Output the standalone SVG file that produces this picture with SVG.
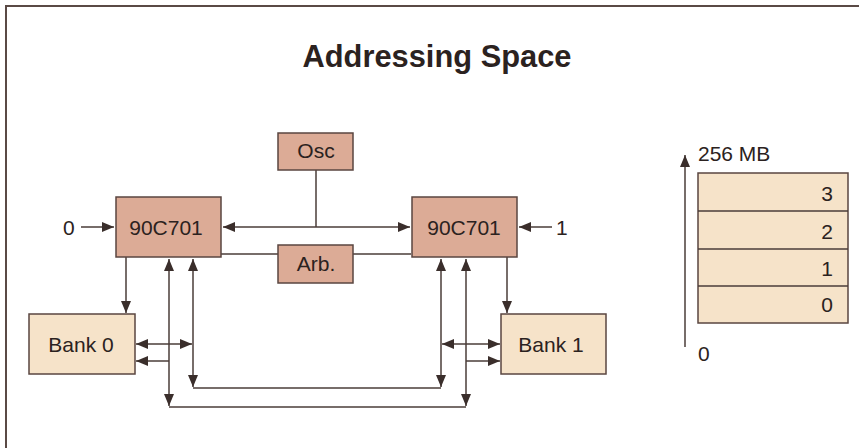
<svg xmlns="http://www.w3.org/2000/svg" width="859" height="448" viewBox="0 0 859 448">
<style>
text{font-family:"Liberation Sans",Arial,sans-serif;fill:#2b2220;font-size:21px}
.title{font-size:31px;font-weight:bold}
.chip{fill:#dcab96;stroke:#5a4640;stroke-width:1.5}
.bank{fill:#f6e3c9;stroke:#5a4640;stroke-width:1.5}
.ln{stroke:#4a3c38;stroke-width:1.5;fill:none}
.mid{text-anchor:middle}
.end{text-anchor:end}
</style>
<defs>
<marker id="ah" markerUnits="userSpaceOnUse" markerWidth="13" markerHeight="11" refX="12" refY="5" orient="auto-start-reverse">
<path d="M0,0 L12,5 L0,10 Z" fill="#3a2e2b"/>
</marker>
</defs>
<rect width="859" height="448" fill="#ffffff"/>
<g id="frame" class="ln"><path d="M6,448 V6 H859" stroke="#5a4a45" stroke-width="2"/></g>
<text class="title mid" x="437" y="67" textLength="269" lengthAdjust="spacingAndGlyphs">Addressing Space</text>

<g id="connectors" class="ln">
<line x1="81" y1="227" x2="114" y2="227" marker-end="url(#ah)"/>
<line x1="223" y1="227" x2="410" y2="227" marker-start="url(#ah)" marker-end="url(#ah)"/>
<line x1="316" y1="170" x2="316" y2="227"/>
<line x1="221" y1="254" x2="278" y2="254"/>
<line x1="353" y1="254" x2="411" y2="254"/>
<line x1="552" y1="227" x2="519" y2="227" marker-end="url(#ah)"/>
<line x1="126" y1="257" x2="126" y2="313" marker-end="url(#ah)"/>
<line x1="507" y1="257" x2="507" y2="313" marker-end="url(#ah)"/>
<line x1="169" y1="259" x2="169" y2="406" marker-start="url(#ah)" marker-end="url(#ah)"/>
<line x1="193" y1="259" x2="193" y2="387" marker-start="url(#ah)" marker-end="url(#ah)"/>
<line x1="441" y1="259" x2="441" y2="387" marker-start="url(#ah)" marker-end="url(#ah)"/>
<line x1="466" y1="259" x2="466" y2="406" marker-start="url(#ah)" marker-end="url(#ah)"/>
<line x1="169" y1="407" x2="466" y2="407"/>
<line x1="193" y1="388" x2="441" y2="388"/>
<line x1="136" y1="344" x2="192" y2="344" marker-start="url(#ah)" marker-end="url(#ah)"/>
<line x1="169" y1="361" x2="136" y2="361" marker-end="url(#ah)"/>
<line x1="442" y1="344" x2="500" y2="344" marker-start="url(#ah)" marker-end="url(#ah)"/>
<line x1="466" y1="361" x2="500" y2="361" marker-end="url(#ah)"/>
<line x1="685" y1="347" x2="685" y2="155" marker-end="url(#ah)"/>
</g>

<g id="osc"><rect class="chip" x="278" y="133" width="75" height="37"/><text class="mid" x="316" y="158">Osc</text></g>
<g id="arb"><rect class="chip" x="278" y="245" width="75" height="38"/><text class="mid" x="316" y="271">Arb.</text></g>
<g id="cpu0"><rect class="chip" x="116" y="197" width="105" height="60"/><text class="mid" x="166" y="235">90C701</text></g>
<g id="cpu1"><rect class="chip" x="412" y="197" width="105" height="60"/><text class="mid" x="464" y="235">90C701</text></g>
<g id="bank0"><rect class="bank" x="29" y="314" width="106" height="60"/><text class="mid" x="81" y="352">Bank 0</text></g>
<g id="bank1"><rect class="bank" x="501" y="314" width="105" height="60"/><text class="mid" x="551" y="352">Bank 1</text></g>
<text x="63" y="235">0</text>
<text x="556" y="235">1</text>

<g id="space">
<rect class="bank" x="698" y="173" width="150" height="150"/>
<line class="ln" x1="698" y1="211" x2="848" y2="211"/>
<line class="ln" x1="698" y1="249" x2="848" y2="249"/>
<line class="ln" x1="698" y1="286" x2="848" y2="286"/>
<text class="end" x="833" y="201">3</text>
<text class="end" x="833" y="239">2</text>
<text class="end" x="833" y="276">1</text>
<text class="end" x="833" y="312">0</text>
<text x="698" y="161">256 MB</text>
<text x="698" y="361">0</text>
</g>
</svg>
